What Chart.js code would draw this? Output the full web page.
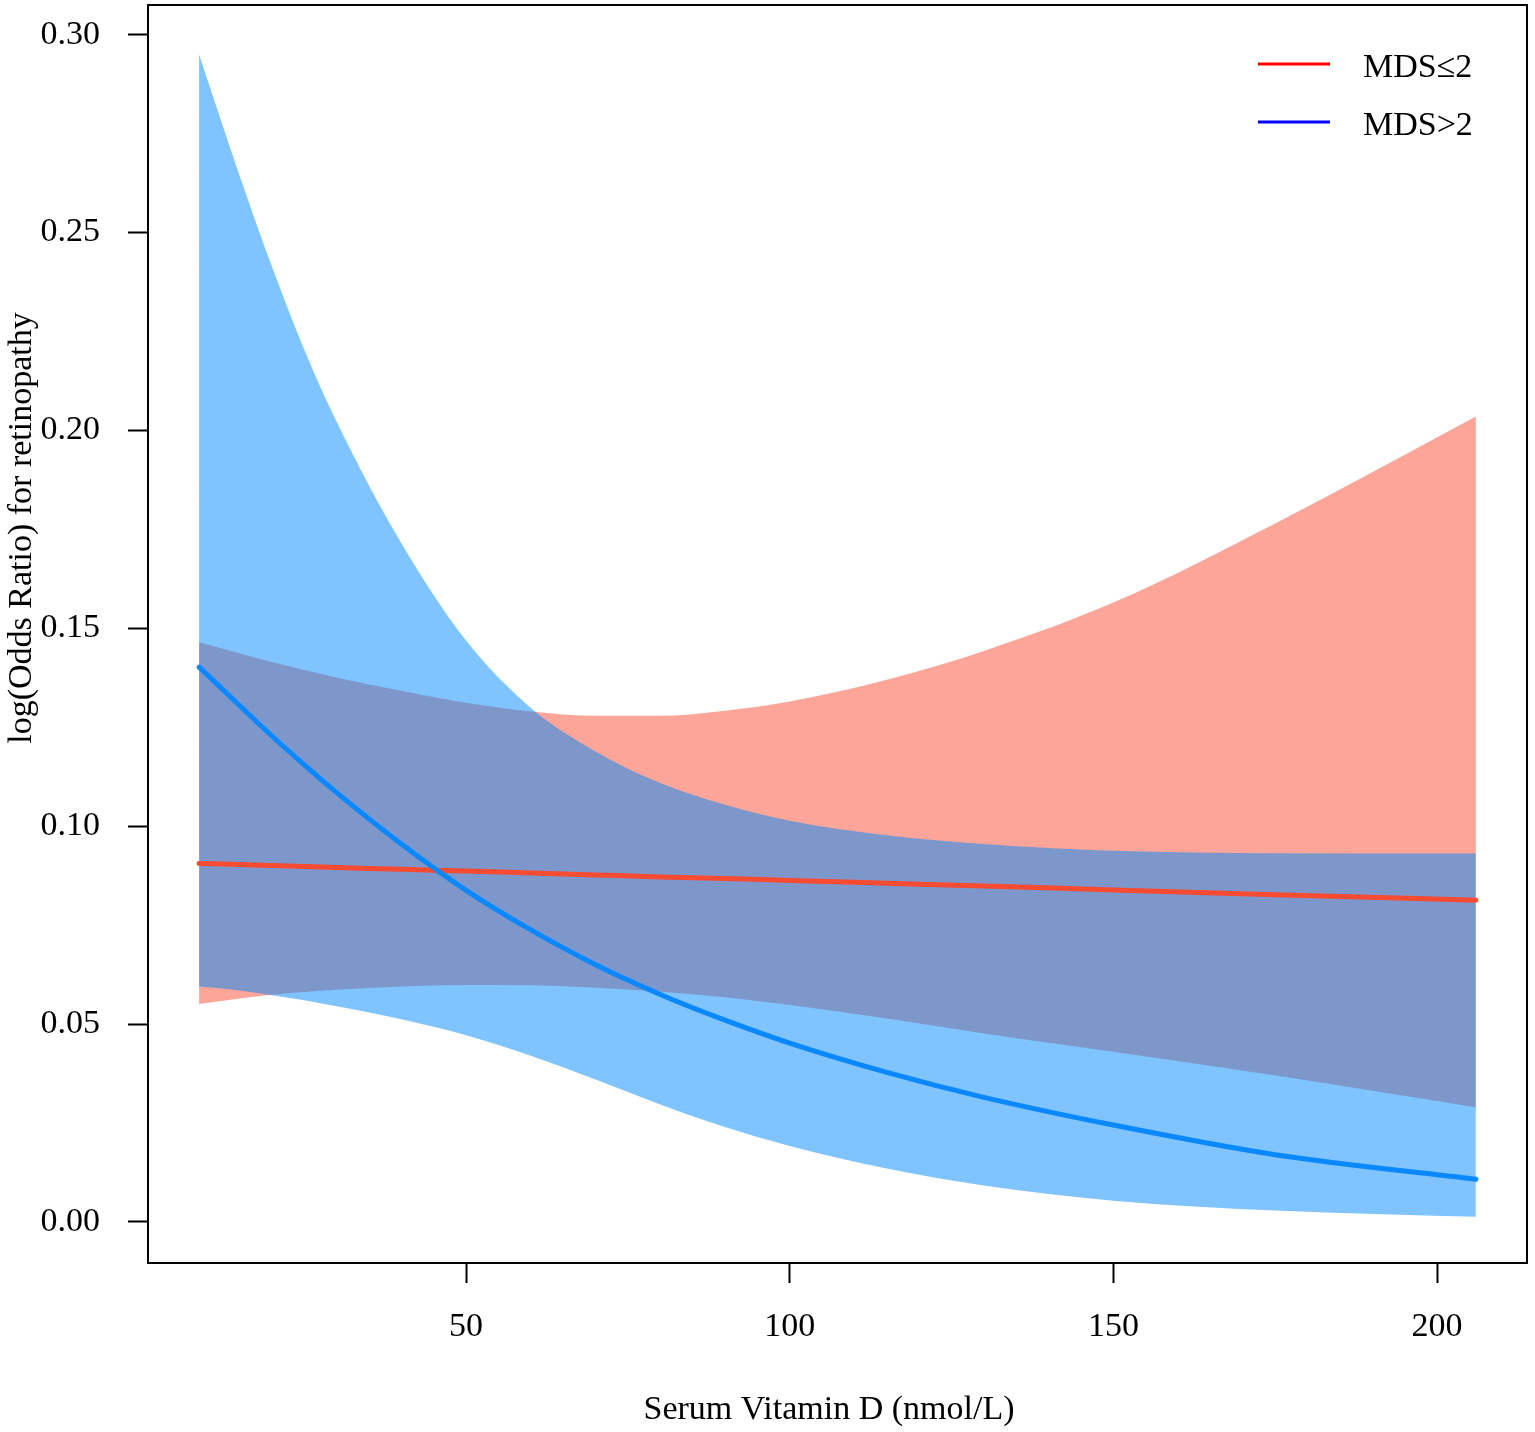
<!DOCTYPE html>
<html>
<head>
<meta charset="utf-8">
<script src="https://cdn.jsdelivr.net/npm/chart.js@4.4.1/dist/chart.umd.min.js"></script>
<style>
  html, body { margin: 0; padding: 0; background: #fff; }
</style>
</head>
<body>
<canvas id="rcsChart" width="1535" height="1432"></canvas>
<script>
// Serum vitamin D (nmol/L) positions where the curves were read
const vitD = [8.75, 15, 20, 25, 30, 40, 50, 60, 70, 80, 90, 100, 115, 130, 150, 175, 206];

// MDS<=2 : fitted log(OR) with its confidence band
const mdsLowFit   = [0.0906, 0.0903, 0.0901, 0.0898, 0.0896, 0.0891, 0.0887, 0.0882, 0.0877, 0.0872, 0.0868, 0.0863, 0.0856, 0.0849, 0.0839, 0.0827, 0.0813];
const mdsLowUpper = [0.1465, 0.1437, 0.1415, 0.1395, 0.1376, 0.1342, 0.1312, 0.1290, 0.1279, 0.1279, 0.1292, 0.1315, 0.1370, 0.1443, 0.1565, 0.1765, 0.2035];
const mdsLowLower = [0.0551, 0.0565, 0.0574, 0.0581, 0.0587, 0.0595, 0.0599, 0.0598, 0.0592, 0.0582, 0.0568, 0.0548, 0.0514, 0.0476, 0.0430, 0.0370, 0.0290];

// MDS>2 : fitted log(OR) with its confidence band
const mdsHighFit   = [0.1402, 0.1305, 0.1228, 0.1155, 0.1085, 0.0955, 0.0838, 0.0738, 0.0650, 0.0575, 0.0510, 0.0452, 0.0378, 0.0315, 0.0245, 0.0170, 0.0108];
const mdsHighUpper = [0.2950, 0.2644, 0.2414, 0.2204, 0.2022, 0.1715, 0.1469, 0.1299, 0.1189, 0.1109, 0.1054, 0.1014, 0.0977, 0.0955, 0.0938, 0.0932, 0.0931];
const mdsHighLower = [0.0595, 0.0585, 0.0573, 0.0560, 0.0545, 0.0512, 0.0472, 0.0420, 0.0360, 0.0297, 0.0240, 0.0192, 0.0135, 0.0092, 0.0054, 0.0029, 0.0013];

// axis ticks and titles
const xTicks = [50, 100, 150, 200];
const yTicks = [0.00, 0.05, 0.10, 0.15, 0.20, 0.25, 0.30];
const xTitle = 'Serum Vitamin D (nmol/L)';
const yTitle = 'log(Odds Ratio) for retinopathy';

// legend
const legendLabels = ['MDS\u22642', 'MDS>2'];
const legendColors = ['#ff0000', '#0000ff'];

const FONT = 'Liberation Serif';

function pts(ys) {
    return vitD.map((x, i) => ({ x: x, y: ys[i] }));
}

function band(ys, fillTo, color, order) {
    return {
        data: pts(ys),
        borderColor: 'transparent',
        borderWidth: 0,
        pointRadius: 0,
        backgroundColor: color,
        fill: fillTo,
        cubicInterpolationMode: 'monotone',
        order: order
    };
}

function fitLine(ys, color, order) {
    return {
        data: pts(ys),
        borderColor: color,
        borderWidth: 5,
        borderCapStyle: 'round',
        pointRadius: 0,
        fill: false,
        cubicInterpolationMode: 'monotone',
        order: order
    };
}

// frame, axis titles and legend (placed like the R original)
const framePlugin = {
    id: 'frameAndLegend',
    afterDraw(chart) {
        const ctx = chart.ctx;
        const a = chart.chartArea;
        ctx.save();
        ctx.strokeStyle = '#000';
        ctx.lineWidth = 2;
        ctx.strokeRect(a.left, a.top, a.right - a.left, a.bottom - a.top);

        ctx.font = '34px "' + FONT + '"';
        ctx.fillStyle = '#000';

        // axis titles
        ctx.textAlign = 'center';
        ctx.textBaseline = 'middle';
        ctx.fillText(xTitle, 829, 1410);
        ctx.save();
        ctx.translate(22, 528);
        ctx.rotate(-Math.PI / 2);
        ctx.fillText(yTitle, 0, 0);
        ctx.restore();

        // legend
        ctx.textAlign = 'left';
        ctx.textBaseline = 'alphabetic';
        legendLabels.forEach((lab, i) => {
            const y = 64 + i * 58;
            ctx.strokeStyle = legendColors[i];
            ctx.lineWidth = 3;
            ctx.beginPath();
            ctx.moveTo(1258, y);
            ctx.lineTo(1330, y);
            ctx.stroke();
            ctx.fillText(lab, 1363, y + 13);
        });
        ctx.restore();
    }
};

new Chart(document.getElementById('rcsChart').getContext('2d'), {
    type: 'line',
    data: {
        datasets: [
            band(mdsLowLower, false, 'transparent', 6),
            band(mdsLowUpper, '-1', 'rgba(249, 75, 49, 0.5)', 5),
            band(mdsHighLower, false, 'transparent', 4),
            band(mdsHighUpper, '-1', 'rgba(0, 137, 255, 0.5)', 3),
            fitLine(mdsLowFit, '#f74b32', 2),
            fitLine(mdsHighFit, '#0a88ff', 1)
        ]
    },
    options: {
        responsive: false,
        animation: false,
        devicePixelRatio: 1,
        layout: { padding: { top: 5, right: 8, left: 0, bottom: 0 } },
        plugins: { legend: { display: false }, tooltip: { enabled: false } },
        scales: {
            x: {
                type: 'linear',
                min: 0.86,
                max: 213.9,
                afterBuildTicks: s => { s.ticks = xTicks.map(v => ({ value: v })); },
                afterFit: s => { s.height = 169; s.paddingLeft = 0; s.paddingRight = 0; },
                border: { display: false },
                grid: { display: true, drawOnChartArea: false, drawTicks: true, tickLength: 20, tickWidth: 2, tickColor: '#000' },
                ticks: { color: '#000', padding: 24, font: { family: FONT, size: 34 }, maxRotation: 0 },
                title: { display: false }
            },
            y: {
                type: 'linear',
                min: -0.01036,
                max: 0.3075,
                afterBuildTicks: s => { s.ticks = yTicks.map(v => ({ value: v })); },
                afterFit: s => { s.width = 148; s.paddingTop = 0; s.paddingBottom = 0; },
                border: { display: false },
                grid: { display: true, drawOnChartArea: false, drawTicks: true, tickLength: 20, tickWidth: 2, tickColor: '#000' },
                ticks: { color: '#000', padding: 28, font: { family: FONT, size: 34 }, callback: v => v.toFixed(2) },
                title: { display: false }
            }
        }
    },
    plugins: [framePlugin]
});
</script>
</body>
</html>
